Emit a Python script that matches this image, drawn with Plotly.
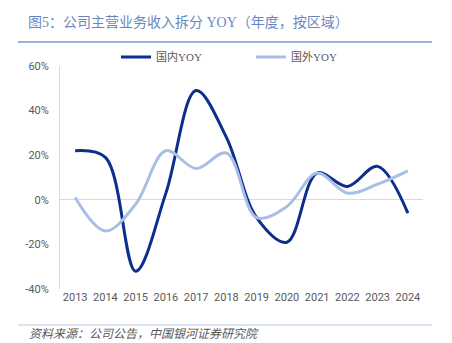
import plotly.graph_objects as go

years = ["2013", "2014", "2015", "2016", "2017", "2018", "2019", "2020", "2021", "2022", "2023", "2024"]
domestic_yoy = [22, 19, -32, 3, 49, 28, -8, -19, 12, 6, 15, -6]
overseas_yoy = [1, -14, -2, 22, 14, 21, -8, -3, 12, 3, 7, 13]
y_ticks = [-40, -20, 0, 20, 40, 60]
y_tick_labels = ["-40%", "-20%", "0%", "20%", "40%", "60%"]

W, H = 452, 343
L, R, T, B = 60, 29, 66, 54
pw, ph = W - L - R, H - T - B

def px(x):
    return (x - L) / pw

def py(y):
    return (H - B - y) / ph

fig = go.Figure()
fig.add_trace(go.Scatter(x=years, y=domestic_yoy, name="国内YOY", mode="lines", legend="legend",
                         line=dict(color="#0c2f8e", width=3, shape="spline", smoothing=1.0)))
fig.add_trace(go.Scatter(x=years, y=overseas_yoy, name="国外YOY", mode="lines", legend="legend2",
                         line=dict(color="#a9bee6", width=3, shape="spline", smoothing=1.0)))

legend_font = dict(family="Liberation Serif, Noto Sans CJK SC", size=11, color="#595959")

fig.update_layout(
    width=W, height=H,
    margin=dict(l=L, r=R, t=T, b=B),
    paper_bgcolor="white", plot_bgcolor="white",
    title=dict(text="图5：公司主营业务收入拆分 YOY（年度，按区域）",
               x=28 / W, xanchor="left", y=1 - 22 / H, yanchor="middle",
               font=dict(family="Liberation Serif, Noto Sans CJK SC", size=14, color="#6a86bf")),
    showlegend=True,
    legend=dict(orientation="h", x=px(116), xanchor="left", y=py(57), yanchor="middle",
                font=legend_font, bgcolor="rgba(0,0,0,0)"),
    legend2=dict(orientation="h", x=px(251), xanchor="left", y=py(57), yanchor="middle",
                 font=legend_font, bgcolor="rgba(0,0,0,0)"),
    xaxis=dict(type="category", range=[-0.5, 11.5], showgrid=False, showline=False,
               zeroline=False, ticks="", tickfont=dict(family="Roboto", size=11, color="#595959")),
    yaxis=dict(range=[-40, 60], tickvals=y_ticks, ticktext=y_tick_labels, showgrid=False,
               showline=True, linecolor="#d9d9d9", linewidth=1, zeroline=True,
               zerolinecolor="#d9d9d9", zerolinewidth=1, ticks="", ticklabelstandoff=8,
               tickfont=dict(family="Roboto", size=11, color="#595959")),
)

fig.add_shape(type="line", xref="paper", yref="paper", x0=px(18), x1=px(432), y0=py(42), y1=py(42),
              line=dict(color="#7b9bd1", width=1.5))
fig.add_shape(type="line", xref="paper", yref="paper", x0=px(18), x1=px(432), y0=py(325), y1=py(325),
              line=dict(color="#b8c8e6", width=1))
fig.add_annotation(text="<i>资料来源：公司公告，中国银河证券研究院</i>", xref="paper", yref="paper",
                   x=px(27), y=py(332), xanchor="left", yanchor="middle", showarrow=False,
                   font=dict(family="Noto Sans CJK SC", size=12, color="#595959"))

fig.write_html("out.html")
